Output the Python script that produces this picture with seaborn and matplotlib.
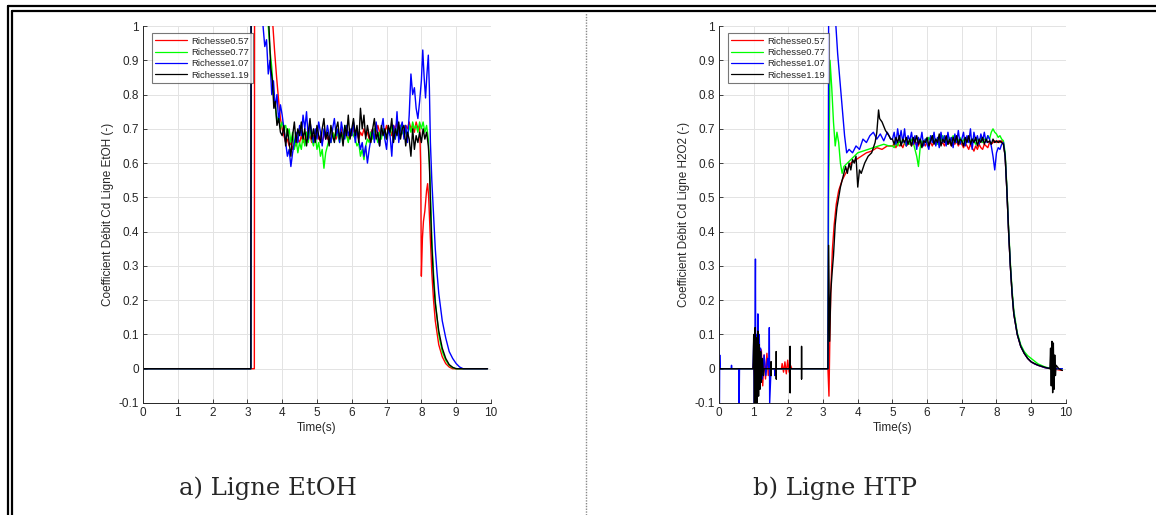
import numpy as np
import pandas as pd
import matplotlib
matplotlib.use("Agg")
import matplotlib.pyplot as plt
from matplotlib.lines import Line2D
from matplotlib.ticker import FuncFormatter
import seaborn as sns

# ---- data (time in s, Cd coefficient) ----
labels = ["Richesse0.57", "Richesse0.77", "Richesse1.07", "Richesse1.19"]
colors = ["#ff0000", "#00ff00", "#0000ff", "#000000"]

# shared plateau sampling instants
plat_t_a = [4.00, 4.05, 4.10, 4.15, 4.20, 4.25, 4.30, 4.35, 4.40, 4.45,
            4.50, 4.55, 4.60, 4.65, 4.70, 4.75, 4.80, 4.85, 4.90, 4.95,
            5.00, 5.05, 5.10, 5.15, 5.20, 5.25, 5.30, 5.35, 5.40, 5.45,
            5.50, 5.55, 5.60, 5.65, 5.70, 5.75, 5.80, 5.85, 5.90, 5.95,
            6.00, 6.05, 6.10, 6.15, 6.20, 6.25, 6.30, 6.35, 6.40, 6.45,
            6.50, 6.55, 6.60, 6.65, 6.70, 6.75, 6.80, 6.85, 6.90, 6.95,
            7.00, 7.05, 7.10, 7.15, 7.20, 7.25, 7.30, 7.35, 7.40, 7.45,
            7.50, 7.55, 7.60, 7.65, 7.70, 7.75, 7.80, 7.85, 7.90, 7.95]
plat_t_b = plat_t_a[20:]

# ---------- panel a : Ligne EtOH ----------
red_a_pre_t = [0.0, 1.0, 2.0, 3.0, 3.2, 3.21, 3.6, 3.72, 3.78, 3.84, 3.9, 3.95]
red_a_pre = [0, 0, 0, 0, 0, 1.6, 1.5, 1.02, 0.93, 0.85, 0.78, 0.73]
red_a_plat = [0.70, 0.68, 0.66, 0.67, 0.65, 0.66, 0.64, 0.66, 0.65, 0.67,
              0.66, 0.68, 0.66, 0.67, 0.69, 0.67, 0.68, 0.66, 0.68, 0.67,
              0.69, 0.67, 0.68, 0.66, 0.68, 0.69, 0.67, 0.68, 0.66, 0.69,
              0.68, 0.67, 0.69, 0.68, 0.70, 0.67, 0.69, 0.68, 0.67, 0.69,
              0.68, 0.70, 0.68, 0.69, 0.67, 0.69, 0.68, 0.70, 0.68, 0.69,
              0.67, 0.69, 0.70, 0.68, 0.69, 0.71, 0.69, 0.68, 0.70, 0.69,
              0.71, 0.69, 0.70, 0.68, 0.71, 0.70, 0.72, 0.69, 0.71, 0.70,
              0.69, 0.71, 0.70, 0.72, 0.70, 0.71, 0.69, 0.72, 0.70, 0.71]
red_a_post_t = [7.98, 8.0, 8.03, 8.06, 8.1, 8.15, 8.18, 8.21, 8.25, 8.3, 8.35, 8.4,
                8.5, 8.6, 8.7, 8.8, 8.9, 9.9]
red_a_post = [0.60, 0.27, 0.38, 0.43, 0.46, 0.52, 0.54, 0.50, 0.40, 0.28, 0.20, 0.14,
              0.07, 0.035, 0.015, 0.005, 0.0, 0.0]

green_a_pre_t = [0.0, 3.1, 3.12, 3.5, 3.6, 3.65, 3.7, 3.75, 3.8, 3.85, 3.9, 3.95]
green_a_pre = [0, 0, 1.6, 1.2, 1.0, 0.93, 0.88, 0.80, 0.77, 0.72, 0.74, 0.70]
green_a_plat = [0.72, 0.70, 0.71, 0.68, 0.70, 0.66, 0.69, 0.64, 0.67, 0.63,
                0.66, 0.64, 0.68, 0.65, 0.69, 0.66, 0.70, 0.67, 0.65, 0.68,
                0.64, 0.66, 0.62, 0.64, 0.585, 0.63, 0.65, 0.67, 0.66, 0.69,
                0.67, 0.70, 0.68, 0.66, 0.69, 0.67, 0.71, 0.68, 0.66, 0.69,
                0.70, 0.68, 0.67, 0.65, 0.66, 0.62, 0.64, 0.61, 0.65, 0.67,
                0.66, 0.69, 0.67, 0.70, 0.68, 0.66, 0.69, 0.67, 0.70, 0.68,
                0.67, 0.70, 0.68, 0.71, 0.69, 0.67, 0.70, 0.68, 0.71, 0.69,
                0.68, 0.70, 0.67, 0.71, 0.69, 0.72, 0.70, 0.71, 0.69, 0.72]
green_a_post_t = [8.0, 8.05, 8.1, 8.15, 8.2, 8.25, 8.3, 8.35, 8.4, 8.5, 8.6, 8.7,
                  8.8, 8.9, 9.0, 9.9]
green_a_post = [0.70, 0.72, 0.69, 0.71, 0.67, 0.55, 0.38, 0.28, 0.2, 0.1, 0.05, 0.025,
                0.01, 0.003, 0.0, 0.0]

blue_a_pre_t = [0.0, 3.1, 3.11, 3.4, 3.45, 3.5, 3.55, 3.6, 3.65, 3.7, 3.75, 3.8,
                3.85, 3.9, 3.95]
blue_a_pre = [0, 0, 1.6, 1.2, 1.0, 0.94, 0.96, 0.86, 0.90, 0.80, 0.84, 0.76,
              0.80, 0.72, 0.77]
blue_a_plat = [0.74, 0.70, 0.66, 0.62, 0.64, 0.59, 0.63, 0.66, 0.69, 0.66,
               0.71, 0.68, 0.74, 0.70, 0.75, 0.67, 0.72, 0.69, 0.66, 0.70,
               0.67, 0.72, 0.69, 0.65, 0.70, 0.67, 0.71, 0.68, 0.66, 0.70,
               0.73, 0.68, 0.70, 0.66, 0.72, 0.69, 0.67, 0.71, 0.68, 0.70,
               0.68, 0.72, 0.66, 0.70, 0.67, 0.64, 0.66, 0.62, 0.65, 0.60,
               0.64, 0.67, 0.70, 0.66, 0.72, 0.68, 0.65, 0.70, 0.73, 0.67,
               0.64, 0.70, 0.68, 0.62, 0.71, 0.67, 0.75, 0.66, 0.70, 0.72,
               0.67, 0.71, 0.66, 0.74, 0.86, 0.80, 0.82, 0.76, 0.73, 0.78]
blue_a_post_t = [8.0, 8.04, 8.08, 8.12, 8.16, 8.2, 8.23, 8.26, 8.3, 8.35, 8.4, 8.45,
                 8.5, 8.6, 8.7, 8.8, 8.9, 9.0, 9.1, 9.2, 9.9]
blue_a_post = [0.84, 0.93, 0.85, 0.79, 0.86, 0.915, 0.82, 0.66, 0.55, 0.45, 0.35, 0.28,
               0.22, 0.14, 0.09, 0.05, 0.03, 0.015, 0.005, 0.0, 0.0]

black_a_pre_t = [0.0, 3.1, 3.11, 3.5, 3.62, 3.67, 3.72, 3.76, 3.8, 3.85, 3.9, 3.95]
black_a_pre = [0, 0, 1.6, 1.2, 1.0, 0.88, 0.84, 0.76, 0.78, 0.71, 0.73, 0.69]
black_a_plat = [0.68, 0.71, 0.65, 0.70, 0.66, 0.62, 0.68, 0.72, 0.66, 0.70,
                0.68, 0.72, 0.67, 0.70, 0.65, 0.69, 0.73, 0.67, 0.70, 0.66,
                0.71, 0.68, 0.66, 0.70, 0.73, 0.67, 0.69, 0.65, 0.71, 0.68,
                0.66, 0.70, 0.72, 0.67, 0.69, 0.65, 0.71, 0.68, 0.74, 0.67,
                0.70, 0.73, 0.68, 0.71, 0.66, 0.76, 0.70, 0.74, 0.67, 0.71,
                0.68, 0.66, 0.70, 0.73, 0.67, 0.69, 0.65, 0.71, 0.68, 0.70,
                0.67, 0.71, 0.69, 0.73, 0.66, 0.70, 0.68, 0.72, 0.67, 0.70,
                0.71, 0.65, 0.69, 0.67, 0.62, 0.70, 0.64, 0.68, 0.66, 0.69]
black_a_post_t = [8.0, 8.05, 8.1, 8.15, 8.2, 8.23, 8.27, 8.3, 8.35, 8.4, 8.5, 8.6,
                  8.7, 8.8, 8.9, 9.0, 9.9]
black_a_post = [0.66, 0.70, 0.67, 0.69, 0.65, 0.60, 0.45, 0.36, 0.26, 0.19, 0.11, 0.06,
                0.03, 0.012, 0.004, 0.0, 0.0]

# ---------- panel b : Ligne HTP ----------
post_t_b = [8.0, 8.05, 8.1, 8.15, 8.2, 8.25, 8.3, 8.35, 8.4, 8.45, 8.5, 8.6, 8.7,
            8.8, 8.9, 9.0, 9.1, 9.2, 9.4, 9.6, 9.9]

red_b_pre_t = [0, 0.98, 1.0, 1.03, 1.06, 1.1, 1.14, 1.18, 1.22, 1.26, 1.3, 1.34,
               1.38, 1.42, 1.46, 1.5,
               1.8, 1.82, 1.86, 1.9, 1.94, 1.98, 2.02, 2.06, 2.1,
               3.14, 3.17, 3.2, 3.23, 3.27, 3.32, 3.38, 3.45, 3.55, 3.65,
               3.8, 3.95, 4.1, 4.25, 4.4, 4.55, 4.7, 4.85]
red_b_pre = [0, 0, 0.02, -0.03, 0.04, -0.05, 0.05, -0.04, 0.055, -0.05, 0.04, -0.03,
             0.045, -0.02, 0.02, 0,
             0, 0.015, -0.01, 0.02, -0.015, 0.025, -0.01, 0.01, 0,
             0, -0.08, 0.12, 0.25, 0.35, 0.42, 0.48, 0.52, 0.55, 0.57,
             0.6, 0.61, 0.62, 0.63, 0.635, 0.645, 0.64, 0.65]
red_b_plat = [0.650, 0.655, 0.645, 0.660, 0.650, 0.655, 0.645, 0.660, 0.650, 0.655,
              0.660, 0.650, 0.665, 0.655, 0.660, 0.650, 0.665, 0.655, 0.660, 0.650,
              0.665, 0.655, 0.660, 0.650, 0.665, 0.655, 0.660, 0.670, 0.655, 0.660,
              0.650, 0.665, 0.655, 0.660, 0.650, 0.660, 0.655, 0.665, 0.650, 0.660,
              0.655, 0.645, 0.660, 0.650, 0.640, 0.655, 0.645, 0.635, 0.650, 0.640,
              0.655, 0.645, 0.640, 0.655, 0.650, 0.645, 0.660, 0.655, 0.660, 0.665]
red_b_post = [0.66, 0.665, 0.66, 0.665, 0.66, 0.62, 0.52, 0.4, 0.3, 0.22, 0.16, 0.1,
              0.065, 0.045, 0.03, 0.02, 0.014, 0.01, 0.003, 0.0, -0.005]

green_b_pre_t = [0, 3.14, 3.16, 3.2, 3.25, 3.3, 3.35, 3.4, 3.45, 3.5, 3.55, 3.6,
                 3.7, 3.8, 3.9, 4.0, 4.15, 4.3, 4.45, 4.6, 4.75, 4.9]
green_b_pre = [0, 0, 0.5, 0.9, 0.82, 0.72, 0.65, 0.69, 0.66, 0.6, 0.57, 0.59,
               0.6, 0.61, 0.62, 0.63, 0.635, 0.64, 0.645, 0.65, 0.655, 0.65]
green_b_plat = [0.650, 0.645, 0.660, 0.650, 0.665, 0.655, 0.670, 0.660, 0.650, 0.665,
                0.655, 0.670, 0.660, 0.640, 0.620, 0.590, 0.645, 0.665, 0.655, 0.670,
                0.660, 0.675, 0.665, 0.680, 0.660, 0.670, 0.655, 0.675, 0.665, 0.680,
                0.665, 0.670, 0.655, 0.675, 0.665, 0.680, 0.660, 0.670, 0.665, 0.675,
                0.660, 0.670, 0.655, 0.665, 0.675, 0.660, 0.670, 0.665, 0.655, 0.670,
                0.665, 0.675, 0.660, 0.670, 0.665, 0.680, 0.670, 0.690, 0.700, 0.690]
green_b_post = [0.685, 0.675, 0.68, 0.67, 0.665, 0.63, 0.53, 0.41, 0.31, 0.23, 0.17,
                0.105, 0.07, 0.05, 0.038, 0.03, 0.022, 0.014, 0.005, 0.0, 0.0]

blue_b_pre_t = [0.0, 0.005, 0.01, 0.02, 0.03, 0.05, 0.35, 0.36, 0.37, 0.57, 0.58, 0.59,
                0.98, 1.0, 1.02, 1.04, 1.05, 1.06, 1.08, 1.1, 1.12, 1.14, 1.16, 1.18, 1.2,
                1.25, 1.3, 1.35, 1.4, 1.44, 1.45, 1.46, 1.5, 1.6, 1.61, 1.62, 1.7,
                3.14, 3.17, 3.2, 3.3, 3.37, 3.42, 3.47, 3.52, 3.57, 3.62, 3.68, 3.75,
                3.85, 3.95, 4.05, 4.15, 4.25, 4.35, 4.45, 4.55, 4.65, 4.75, 4.85, 4.95]
blue_b_pre = [0, 0.15, -0.1, 0.04, 0, 0, 0, 0.01, 0, 0, -0.1, 0,
              0, 0.08, -0.1, 0.12, 0.32, -0.05, 0.1, -0.08, 0.16, -0.06, 0.1, -0.04, 0.06,
              -0.03, 0.04, -0.02, 0.03, 0, 0.12, -0.1, 0, 0, -0.02, 0, 0,
              0, 1.5, 1.4, 1.2, 1.0, 0.92, 0.86, 0.80, 0.74, 0.68, 0.63, 0.64,
              0.63, 0.65, 0.64, 0.67, 0.66, 0.68, 0.69, 0.67, 0.685, 0.665, 0.69, 0.67]
blue_b_plat = [0.670, 0.690, 0.655, 0.700, 0.665, 0.695, 0.660, 0.700, 0.650, 0.680,
               0.665, 0.690, 0.655, 0.680, 0.640, 0.675, 0.660, 0.690, 0.650, 0.670,
               0.655, 0.640, 0.680, 0.660, 0.690, 0.650, 0.675, 0.645, 0.690, 0.660,
               0.680, 0.650, 0.690, 0.660, 0.675, 0.645, 0.685, 0.660, 0.695, 0.655,
               0.670, 0.690, 0.650, 0.680, 0.660, 0.700, 0.640, 0.690, 0.665, 0.680,
               0.655, 0.685, 0.665, 0.690, 0.660, 0.680, 0.670, 0.650, 0.620, 0.580]
blue_b_post = [0.63, 0.645, 0.64, 0.655, 0.66, 0.62, 0.52, 0.4, 0.3, 0.22, 0.16, 0.1,
               0.065, 0.045, 0.03, 0.02, 0.014, 0.01, 0.003, 0.0, 0.0]

black_b_pre_t = [0, 0.98, 1.0, 1.02, 1.04, 1.06, 1.08, 1.1, 1.12, 1.14, 1.16, 1.18,
                 1.2, 1.22, 1.25, 1.28, 1.3,
                 1.5, 1.5, 1.5, 1.5, 1.65, 1.65, 1.65, 1.65,
                 2.05, 2.05, 2.05, 2.05, 2.38, 2.38, 2.38, 2.38,
                 3.14, 3.16, 3.19, 3.22, 3.26, 3.3, 3.35, 3.4, 3.45, 3.5,
                 3.55, 3.6, 3.65, 3.7, 3.75, 3.8, 3.85, 3.9, 3.95, 4.0,
                 4.05, 4.1, 4.2, 4.3, 4.4, 4.5, 4.55, 4.6, 4.63, 4.7, 4.8, 4.9, 4.95]
black_b_pre = [0, 0, 0.1, -0.1, 0.12, -0.12, 0.09, -0.1, 0.11, -0.08, 0.07, -0.06,
               0.05, -0.04, 0.03, -0.02, 0,
               0, 0.02, -0.02, 0, 0, 0.05, -0.03, 0,
               0, 0.065, -0.07, 0, 0, 0.065, -0.03, 0,
               0, 0.36, 0.08, 0.22, 0.28, 0.33, 0.42, 0.47, 0.5, 0.53,
               0.55, 0.57, 0.59, 0.57, 0.6, 0.58, 0.61, 0.6, 0.62, 0.53,
               0.58, 0.57, 0.6, 0.62, 0.63, 0.66, 0.69, 0.755, 0.73, 0.72, 0.695, 0.68, 0.67]
black_b_plat = [0.670, 0.655, 0.675, 0.660, 0.680, 0.650, 0.670, 0.660, 0.675, 0.655,
                0.670, 0.650, 0.675, 0.660, 0.680, 0.655, 0.670, 0.645, 0.665, 0.660,
                0.675, 0.650, 0.665, 0.680, 0.655, 0.670, 0.660, 0.685, 0.650, 0.670,
                0.660, 0.680, 0.655, 0.670, 0.650, 0.675, 0.660, 0.680, 0.655, 0.670,
                0.665, 0.650, 0.675, 0.660, 0.680, 0.655, 0.670, 0.660, 0.675, 0.650,
                0.670, 0.660, 0.675, 0.655, 0.670, 0.660, 0.665, 0.655, 0.670, 0.660]
black_b_post_t = [8.0, 8.05, 8.1, 8.15, 8.2, 8.25, 8.3, 8.35, 8.4, 8.45, 8.5, 8.6, 8.7,
                  8.8, 8.9, 9.0, 9.2, 9.4, 9.54, 9.56, 9.58, 9.6, 9.62, 9.64, 9.66,
                  9.68, 9.7, 9.72, 9.8, 9.9]
black_b_post = [0.665, 0.66, 0.665, 0.66, 0.655, 0.62, 0.52, 0.4, 0.3, 0.22, 0.16, 0.1,
                0.065, 0.045, 0.03, 0.02, 0.01, 0.004, 0.0, 0.06, -0.05, 0.08, -0.07,
                0.075, -0.06, 0.04, -0.02, 0.01, 0.0, -0.005]


def build(parts):
    rows = []
    for lab, (t, v) in zip(labels, parts):
        rows.append(pd.DataFrame({"t": t, "cd": v, "serie": lab}))
    return pd.concat(rows, ignore_index=True)


df_a = build([
    (red_a_pre_t + plat_t_a + red_a_post_t, red_a_pre + red_a_plat + red_a_post),
    (green_a_pre_t + plat_t_a + green_a_post_t, green_a_pre + green_a_plat + green_a_post),
    (blue_a_pre_t + plat_t_a + blue_a_post_t, blue_a_pre + blue_a_plat + blue_a_post),
    (black_a_pre_t + plat_t_a + black_a_post_t, black_a_pre + black_a_plat + black_a_post),
])
df_b = build([
    (red_b_pre_t + plat_t_b + post_t_b, red_b_pre + red_b_plat + red_b_post),
    (green_b_pre_t + plat_t_b + post_t_b, green_b_pre + green_b_plat + green_b_post),
    (blue_b_pre_t + plat_t_b + post_t_b, blue_b_pre + blue_b_plat + blue_b_post),
    (black_b_pre_t + plat_t_b + black_b_post_t, black_b_pre + black_b_plat + black_b_post),
])

sns.set_theme(style="white")
plt.rcParams["font.family"] = ["Liberation Sans", "DejaVu Sans"]

fig = plt.figure(figsize=(11.56, 5.15), dpi=100)
ax_a = fig.add_axes([0.1237, 0.2175, 0.301, 0.732])
ax_b = fig.add_axes([0.622, 0.2175, 0.300, 0.732])

txt = "#262626"
for ax, df, ylab in [(ax_a, df_a, "Coefficient Débit Cd Ligne EtOH (-)"),
                     (ax_b, df_b, "Coefficient Débit Cd Ligne H2O2 (-)")]:
    sns.lineplot(data=df, x="t", y="cd", hue="serie", hue_order=labels,
                 palette=colors, estimator=None, sort=False, lw=1.0, ax=ax)
    ax.set_xlim(0, 10)
    ax.set_ylim(-0.1, 1)
    ax.set_xticks(range(0, 11))
    ax.set_yticks([-0.1, 0, 0.1, 0.2, 0.3, 0.4, 0.5, 0.6, 0.7, 0.8, 0.9, 1.0])
    ax.yaxis.set_major_formatter(FuncFormatter(lambda v, p: "%g" % round(v, 2)))
    ax.grid(True, color="#e3e3e3", lw=0.7)
    ax.set_axisbelow(True)
    for s in ["top", "right"]:
        ax.spines[s].set_visible(False)
    for s in ["left", "bottom"]:
        ax.spines[s].set_color(txt)
        ax.spines[s].set_linewidth(0.7)
    ax.tick_params(direction="in", length=3, width=0.6, colors=txt, labelsize=8.5,
                   left=True, bottom=True, pad=3)
    ax.set_xlabel("Time(s)", fontsize=8.5, color=txt, labelpad=2)
    ax.set_ylabel(ylab, fontsize=8.5, color=txt, labelpad=3)
    leg = ax.legend(loc="upper left", bbox_to_anchor=(0.025, 0.982), fontsize=6.8,
                    frameon=True, fancybox=False, edgecolor="#555555",
                    handlelength=3.3, handletextpad=0.5, borderpad=0.4,
                    labelspacing=0.25, borderaxespad=0)
    leg.get_frame().set_linewidth(0.8)
    for h in leg.get_lines():
        h.set_linewidth(0.9)

# captions
fig.text(0.232, 0.052, "a) Ligne EtOH", ha="center", va="center",
         family="DejaVu Serif", fontsize=17.5)
fig.text(0.722, 0.052, "b) Ligne HTP", ha="center", va="center",
         family="DejaVu Serif", fontsize=17.5)

# table frame: double line at top and left, dotted separator in the middle
fig.add_artist(Line2D([0.0065, 1.0], [0.9874, 0.9874], color="black", lw=1.6,
                      transform=fig.transFigure))
fig.add_artist(Line2D([0.0108, 1.0], [0.9777, 0.9777], color="black", lw=1.6,
                      transform=fig.transFigure))
fig.add_artist(Line2D([0.0065, 0.0065], [0.0, 0.9874], color="black", lw=1.6,
                      transform=fig.transFigure))
fig.add_artist(Line2D([0.0108, 0.0108], [0.0, 0.9777], color="black", lw=1.6,
                      transform=fig.transFigure))
fig.add_artist(Line2D([0.507, 0.507], [0.0, 0.975], color="#888888", lw=1.0,
                      ls=(0, (1, 1)), transform=fig.transFigure))

fig.savefig("out.png", dpi=100)
